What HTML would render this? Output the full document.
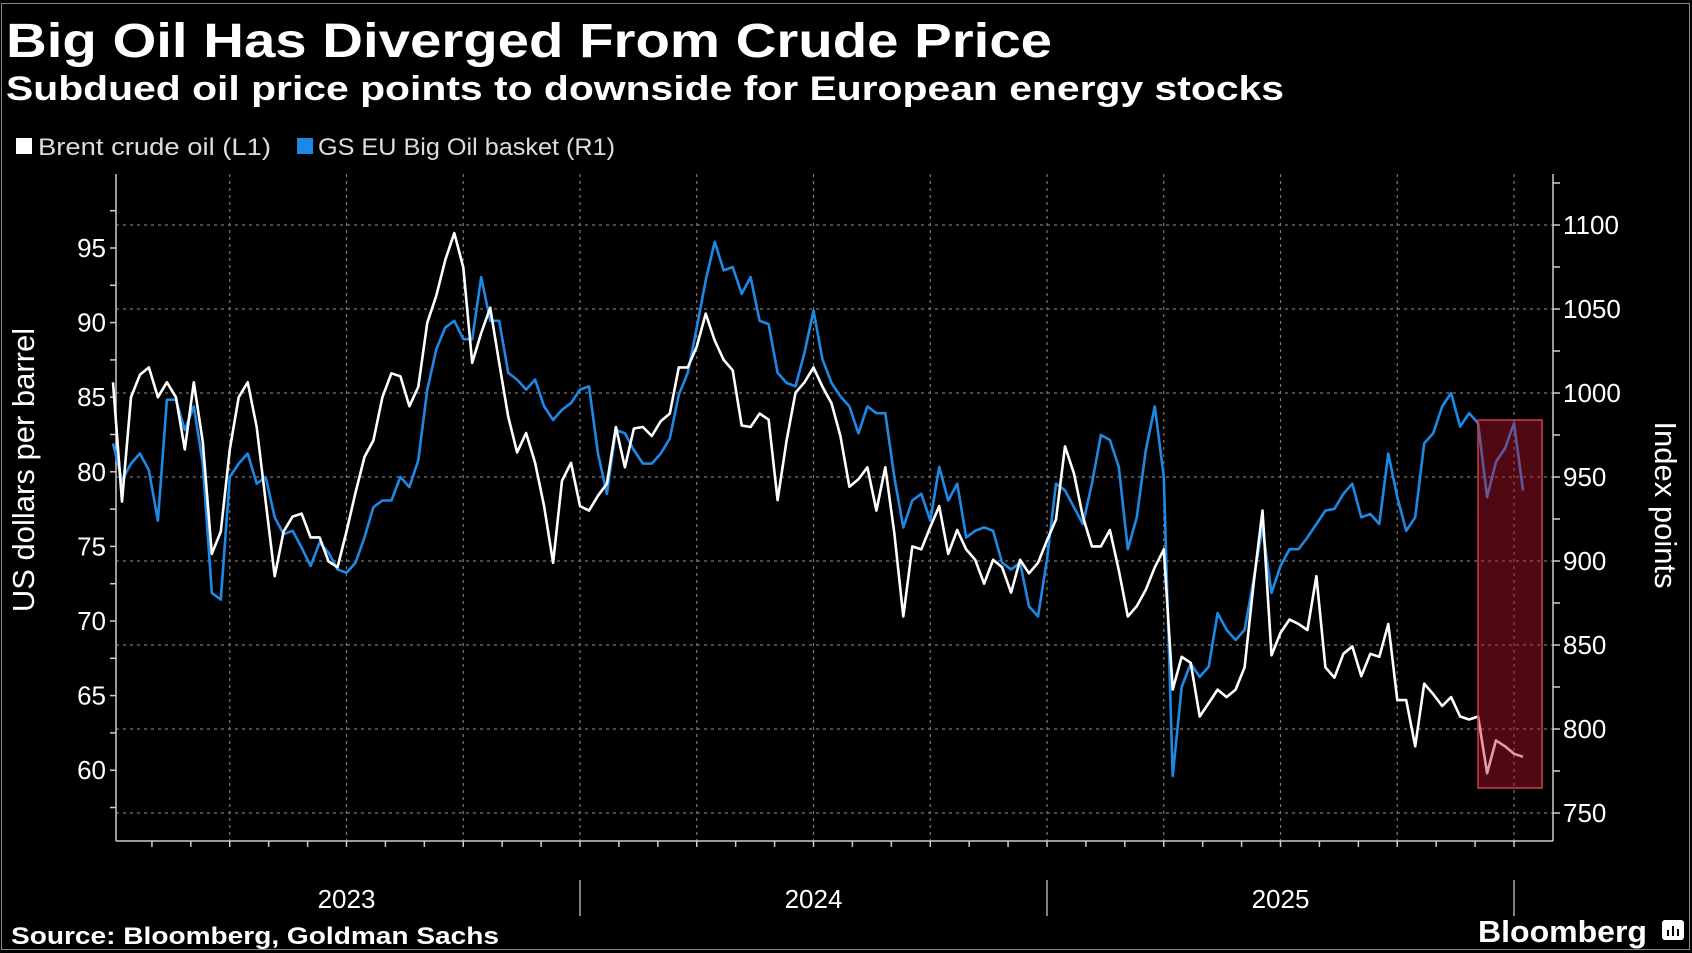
<!DOCTYPE html>
<html><head><meta charset="utf-8"><style>
html,body{margin:0;padding:0;background:#000;}
svg{display:block;}
text{font-family:"Liberation Sans",sans-serif;}
</style></head><body>
<svg id="chart" width="1692" height="953" viewBox="0 0 1692 953" xmlns="http://www.w3.org/2000/svg">
<rect x="0" y="0" width="1692" height="953" fill="#000"/>
<rect x="1.5" y="3.5" width="1688" height="946" fill="none" stroke="#888" stroke-width="1"/>
<text x="6" y="57" fill="#fff" font-size="48" font-weight="bold" textLength="1046" lengthAdjust="spacingAndGlyphs">Big Oil Has Diverged From Crude Price</text>
<text x="6" y="100" fill="#fff" font-size="34" font-weight="bold" textLength="1278" lengthAdjust="spacingAndGlyphs">Subdued oil price points to downside for European energy stocks</text>
<g>
<g><rect x="16" y="138" width="16" height="16" fill="#fff"/><text x="38" y="155" fill="#ddd" font-size="24" textLength="233" lengthAdjust="spacingAndGlyphs">Brent crude oil (L1)</text></g>
<g><rect x="297" y="138" width="16" height="16" fill="#1e88e5"/><text x="318" y="155" fill="#ddd" font-size="24" textLength="297" lengthAdjust="spacingAndGlyphs">GS EU Big Oil basket (R1)</text></g>
</g>
<g id="grid"></g>
<g id="axes"></g>
<g id="series"></g>
<rect x="1478" y="420" width="64" height="368" fill="rgba(190,20,45,0.42)" stroke="#c8404c" stroke-width="1.5"/>
<text transform="translate(34,470) rotate(-90)" text-anchor="middle" fill="#fff" font-size="31">US dollars per barrel</text>
<text transform="translate(1655,505) rotate(90)" text-anchor="middle" fill="#fff" font-size="31">Index points</text>
<text x="11" y="944" fill="#fff" font-size="24" font-weight="bold" textLength="488" lengthAdjust="spacingAndGlyphs">Source: Bloomberg, Goldman Sachs</text>
<text x="1478" y="942" fill="#fff" font-size="31" font-weight="bold" textLength="169" lengthAdjust="spacingAndGlyphs">Bloomberg</text>
<g><rect x="1662" y="920" width="22" height="20" rx="3" fill="#fff"/><rect x="1667" y="930" width="2" height="6" fill="#000"/><rect x="1672" y="926" width="2" height="10" fill="#000"/><rect x="1677" y="929" width="2" height="7" fill="#000"/></g>
</svg>
<script>
const brent = [86,78,85,86.5,87,85,86,85,81.5,86,82,74.5,76,81.5,85,86,83,78,73,76,77,77.2,75.6,75.6,74,73.6,76,78.6,81,82.1,85,86.6,86.4,84.4,85.7,90,91.8,94.2,96,93.7,87.3,89.3,91,87.3,83.7,81.3,82.6,80.6,77.7,73.9,79.4,80.6,77.7,77.4,78.4,79.2,83,80.3,82.9,83,82.4,83.4,83.9,87,87,88.4,90.6,88.8,87.5,86.8,83.1,83,83.9,83.5,78.1,82.1,85.3,86,87,85.7,84.6,82.4,79,79.5,80.3,77.4,80.3,75.9,70.3,75,74.8,76.3,77.7,74.5,76.1,74.8,74.1,72.5,74.1,73.6,71.9,74.1,73.2,73.9,75.4,76.8,81.7,79.9,77,75,75,76.1,73.4,70.3,71,72.1,73.6,74.8,65.4,67.6,67.2,63.6,64.5,65.4,64.9,65.4,66.9,72.5,77.4,67.7,69.2,70.1,69.8,69.4,73,66.9,66.2,67.8,68.3,66.3,67.8,67.6,69.8,64.7,64.7,61.6,65.8,65.1,64.3,64.9,63.6,63.4,63.6,59.8,62,61.6,61.1,60.9];
const gsBasket = [970,948,958,964,954,924,996,996,978,992,958,881,877,950,958,964,946,950,926,916,918,908,897,911,905,895,893,899,914,932,936,936,950,944,960,1002,1026,1039,1043,1032,1032,1069,1043,1043,1012,1008,1002,1008,992,984,990,994,1002,1004,964,940,978,976,966,958,958,964,973,999,1012,1039,1067,1090,1073,1075,1059,1069,1043,1041,1012,1006,1004,1024,1049,1020,1006,998,992,976,992,988,988,950,920,936,940,924,956,936,946,914,918,920,918,899,895,899,873,867,901,946,942,932,922,946,975,972,956,907,926,966,992,950,772,825,839,831,837,869,859,853,859,889,920,881,897,907,907,914,922,930,931,940,946,926,928,922,964,938,918,926,970,976,992,1000,980,988,982,938,959,967,982,942];
const leftTicks = [60,65,70,75,80,85,90,95];
const rightTicks = [750,800,850,900,950,1000,1050,1100];
const yearLabels = ["2023","2024","2025"];
const startYear = 2023;
const weeksPerYear = 52;

const NS = "http://www.w3.org/2000/svg";
const X0 = 116, X1 = 1553, YTOP = 174, YBOT = 841;
function xTime(t){ return 113 + (t - startYear) * 467; }
function xWeek(i){ return xTime(startYear + i / weeksPerYear); }
function yLeft(v){ return 248 + (95 - v) * 14.92; }
function yRight(v){ return 225 + (1100 - v) * 1.68; }
function mk(tag, attrs, parent){ const e = document.createElementNS(NS, tag); for (const k in attrs) e.setAttribute(k, attrs[k]); parent.appendChild(e); return e; }

const grid = document.getElementById('grid');
const axes = document.getElementById('axes');
const series = document.getElementById('series');

rightTicks.forEach(v => {
  const l = mk('line', {x1:X0, x2:X1, y1:yRight(v), y2:yRight(v), stroke:'#777', 'stroke-width':1.2, 'stroke-dasharray':'3,4'}, grid);
  
  
});
for (let q = 1; q < 13; q++) {
  const x = xTime(startYear + q / 4);
  if (x > X1) break;
  const l = mk('line', {x1:x, x2:x, y1:YTOP, y2:YBOT, stroke:'#777', 'stroke-width':1.2, 'stroke-dasharray':'3,4'}, grid);
  
  
}
let a = mk('line', {x1:X0, x2:X0, y1:YTOP, y2:YBOT, stroke:'#ccc', 'stroke-width':1.5}, axes);


a = mk('line', {x1:X1, x2:X1, y1:YTOP, y2:YBOT, stroke:'#ccc', 'stroke-width':1.5}, axes);


a = mk('line', {x1:X0, x2:X1, y1:YBOT, y2:YBOT, stroke:'#ccc', 'stroke-width':1.5}, axes);


for (let v = 57.5; v <= 97.5; v += 2.5) {
  const y = yLeft(v);
  if (y < YTOP || y > YBOT) continue;
  const t = mk('line', {x1:X0 - 6, x2:X0, y1:y, y2:y, stroke:'#ccc', 'stroke-width':1.5}, axes);
  
  
}
leftTicks.forEach(v => {
  const t = mk('text', {x:X0 - 10, y:yLeft(v) + 9, 'text-anchor':'end', fill:'#fff', 'font-size':26}, axes);
  t.textContent = v;
  
  
});
for (let v = 750; v <= 1125; v += 25) {
  const y = yRight(v);
  if (y < YTOP || y > YBOT) continue;
  const t = mk('line', {x1:X1, x2:X1 + 7, y1:y, y2:y, stroke:'#ccc', 'stroke-width':1.5}, axes);
  
  
}
rightTicks.forEach(v => {
  const t = mk('text', {x:X1 + 10, y:yRight(v) + 9, fill:'#fff', 'font-size':26}, axes);
  t.textContent = v;
  
  
});
for (let m = 1; m < 37; m++) {
  const x = xTime(startYear + m / 12);
  if (x > X1) break;
  const t = mk('line', {x1:x, x2:x, y1:YBOT, y2:YBOT + 6, stroke:'#ccc', 'stroke-width':1.5}, axes);
  
  
}
yearLabels.forEach((lab, i) => {
  const xm = (xTime(startYear + i) + xTime(startYear + i + 1)) / 2;
  const t = mk('text', {x:xm, y:908, 'text-anchor':'middle', fill:'#fff', 'font-size':26}, axes);
  t.textContent = lab;
  
  
  const s = mk('line', {x1:xTime(startYear + i + 1), x2:xTime(startYear + i + 1), y1:880, y2:916, stroke:'#aaa', 'stroke-width':1.5}, axes);
  
  
});
function pathFor(arr, yf){ return arr.map((v, i) => (i ? 'L' : 'M') + xWeek(i).toFixed(1) + ',' + yf(v).toFixed(1)).join(''); }
const gsLine = mk('path', {d:pathFor(gsBasket, yRight), fill:'none', stroke:'#1e88e5', 'stroke-width':2.6, 'stroke-linejoin':'round'}, series);


const brentLine = mk('path', {d:pathFor(brent, yLeft), fill:'none', stroke:'#fff', 'stroke-width':2.6, 'stroke-linejoin':'round'}, series);


</script>
</body></html>
